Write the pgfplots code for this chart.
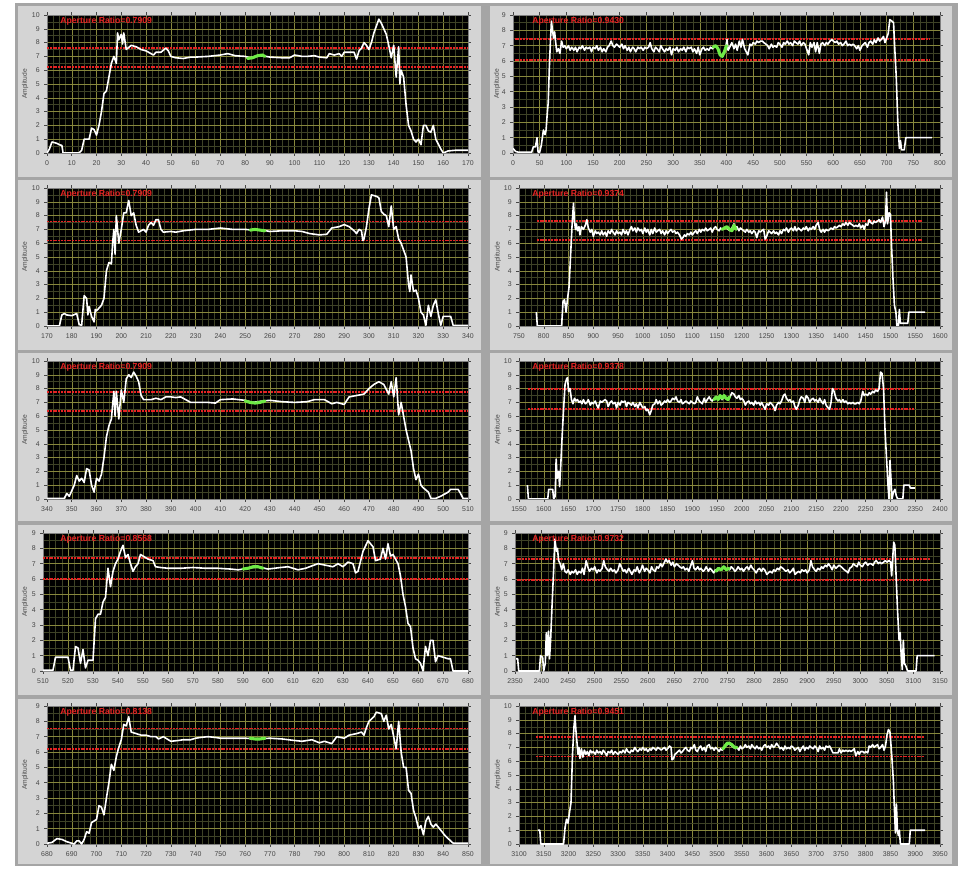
\documentclass[border=0pt]{standalone}
\usepackage{fontspec}
\setmainfont{Liberation Sans}
\usepackage{pgfplots}
\pgfplotsset{compat=1.18}
\definecolor{panelgray}{RGB}{212,212,212}
\definecolor{sepgray}{RGB}{165,165,165}
\definecolor{gridmaj}{RGB}{135,135,60}
\definecolor{gridmin}{RGB}{62,66,38}
\definecolor{tickgray}{RGB}{70,70,70}
\definecolor{lvred}{RGB}{230,35,35}
\definecolor{lvgreen}{RGB}{110,235,70}
\pgfplotsset{
  lv/.style={
    scale only axis, height=103.5pt, anchor=south west,
    axis background/.style={fill=black},
    ymin=0,
    grid=both,
    major grid style={draw=gridmaj, line width=0.35pt},
    minor grid style={draw=gridmin, line width=0.3pt},
    minor x tick num=3, minor y tick num=1,
    tick align=outside, major tick length=2pt, minor tick length=0pt,
    tick style={draw=tickgray, line width=0.4pt},
    axis line style={draw=gray, line width=0.5pt},
    ticklabel style={font=\fontsize{5.2}{6}\selectfont, text=tickgray},
    /pgf/number format/1000 sep={},
    /pgf/number format/assume math mode=true,
    ylabel={Amplitude},
    ylabel style={font=\fontsize{5}{6}\selectfont, text=tickgray, anchor=center},
    clip=true,
  },
  lvl/.style={lv, xtick distance=10},
  lvr/.style={lv, xtick distance=50},
  wline/.style={white, line width=1.2pt, line join=round, no markers},
  gline/.style={lvgreen, line width=2.3pt, line cap=round, line join=round, no markers},
  rline/.style={lvred, line width=1.4pt, dash pattern=on 1.5pt off 0.6pt, no markers},
}
\newcommand{\ttl}[2]{\node[anchor=west, font=\bfseries\fontsize{6.5}{7}\selectfont, text=lvred, inner sep=0pt, xshift=#1, yshift=-4.6pt] at (rel axis cs:0,1) {#2};}
\begin{document}
\begin{tikzpicture}
\fill[white] (0pt,0pt) rectangle (720.75pt,651.75pt);
\fill[sepgray] (11.25pt,2.25pt) rectangle (718.5pt,649.5pt);
\foreach \ya/\yb in {519/647.25,389.25/516.75,261/387,130.5/258,3.75/127.5}{
  \fill[panelgray] (13.5pt,\ya pt) rectangle (360.75pt,\yb pt);
  \fill[panelgray] (367.5pt,\ya pt) rectangle (714pt,\yb pt);
}
% ---------- Row 1 left
\begin{axis}[lvl, at={(35.25pt,537pt)}, width=315.75pt, xmin=0, xmax=170, ymax=10, ytick={0,...,10},
  ylabel style={at={(axis description cs:-0.052,0.5)}}]
\addplot[rline] coordinates {(0,7.62) (170,7.62)};
\addplot[rline] coordinates {(0,6.25) (170,6.25)};
\addplot[wline] coordinates {(0,0) (1,0.3) (2,0.8) (3,0.75) (4,0.7) (5,0.6) (6,0.55) (6.5,0) (13,0) (14,0.2) (15,1.0) (17,1.0) (18,1.8) (19,1.7) (20,1.3) (21,2.0) (22,3.0) (23,4.3) (24,4.5) (25,5.5) (26,6.5) (27,7.0) (28,6.5) (28.5,8.7) (29,8.2) (30,8.6) (30.5,7.9) (31,8.7) (32,7.5) (34,7.8) (36,7.7) (38,7.5) (40,7.4) (42,7.2) (43,7.1) (44,7.3) (46,7.3) (48,7.6) (49,7.4) (50,7.0) (52,6.9) (55,6.85) (58,6.95) (60,6.95) (65,7.0) (70,7.1) (73,7.2) (76,7.05) (80,7.0) (82,6.9) (85,7.05) (87,7.05) (90,6.95) (95,6.9) (98,6.9) (100,7.1) (103,7.0) (105,7.0) (108,7.05) (110,6.95) (113,6.9) (114,7.2) (116,7.1) (118,7.2) (119,7.0) (120,7.3) (122,7.3) (124,7.3) (125,6.8) (126,7.4) (127,7.6) (128,8.0) (129,7.8) (130,7.5) (131,8.0) (132,8.7) (133,9.2) (134,9.7) (135,9.4) (136,9.0) (137,8.6) (138,7.8) (139,6.9) (140,7.8) (141,5.5) (142,7.7) (142.5,5.0) (143,6.0) (144,5.5) (145,3.5) (146,2.0) (147,1.6) (148,1.0) (149,0.8) (150,1.0) (151,0.6) (152,2.0) (153,2.0) (154,1.6) (155,1.5) (156,2.0) (157,1.0) (159,0.3) (160,0) (162,0.15) (165,0.2) (170,0.2)};
\addplot[gline] coordinates {(81,6.85) (83,6.9) (85,7.05) (87,7.1) (88,7.0)};
\ttl{9.75pt}{Aperture Ratio=0.7909}
\end{axis}
% ---------- Row 1 right
\begin{axis}[lvr, at={(384.75pt,537pt)}, width=320.25pt, xmin=0, xmax=800, ymax=9, ytick={0,...,9},
  ylabel style={at={(axis description cs:-0.037,0.5)}}]
\addplot[rline] coordinates {(3,7.41) (781,7.41)};
\addplot[rline] coordinates {(3,6.04) (781,6.04)};
\addplot[wline] coordinates {(0,0.3) (5,0.1) (10,0.05) (35,0.05) (38,0.4) (42,0.4) (45,1.0) (47,0.05) (50,0.05) (53,0.5) (57,1.5) (60,1.2) (62,1.5) (64,2.5) (66,3.3) (68,5.5) (70,7.2) (72,8.6) (74,8.0) (76,7.5) (78,7.9) (80,7.2) (82,6.6) (85,6.8) (88,6.5) (91,7.3) (94,6.9) (97,7.0) (100,6.8) (104,7.0) (107,6.7) (110,6.9) (114,6.7) (117,6.9) (120,6.6) (124,6.9) (127,6.8) (130,7.0) (134,6.7) (137,6.9) (140,6.8) (144,6.9) (147,6.6) (150,6.9) (154,6.8) (157,7.0) (160,6.7) (164,6.9) (167,6.6) (170,6.8) (174,6.6) (177,6.9) (180,7.0) (184,7.3) (187,7.0) (190,6.9) (194,7.1) (197,7.0) (200,6.9) (204,7.1) (207,6.8) (210,7.0) (214,6.7) (217,6.9) (220,6.6) (224,6.9) (227,6.8) (230,6.6) (234,6.9) (237,6.8) (240,6.9) (244,6.7) (247,6.9) (250,6.8) (254,6.9) (257,7.2) (260,6.8) (264,6.6) (267,6.9) (270,6.8) (274,6.6) (277,7.0) (280,6.8) (284,6.6) (287,6.8) (290,6.7) (294,6.9) (297,6.4) (300,6.8) (304,6.7) (307,6.9) (310,6.6) (314,6.8) (317,6.7) (320,6.9) (324,6.6) (327,6.9) (330,6.8) (334,6.9) (337,6.6) (340,6.8) (344,6.5) (347,6.9) (350,6.4) (354,6.8) (357,6.9) (360,6.7) (364,6.8) (367,6.7) (370,6.9) (374,6.8) (377,7.0) (380,7.0) (384,6.8) (388,6.4) (392,6.3) (396,6.6) (399,7.0) (401,7.4) (403,6.7) (406,6.9) (410,7.2) (414,6.8) (417,7.1) (420,6.7) (424,7.3) (427,6.9) (430,7.4) (434,6.8) (437,6.6) (440,6.4) (444,7.1) (447,7.0) (450,7.2) (454,7.1) (457,7.3) (460,7.2) (464,7.3) (467,7.3) (470,7.2) (474,7.1) (477,7.0) (480,6.8) (484,7.1) (487,6.9) (490,7.0) (494,6.9) (497,7.2) (500,7.1) (504,6.9) (507,7.2) (510,7.1) (514,7.3) (517,7.1) (520,7.2) (524,7.0) (527,7.3) (530,7.2) (534,7.1) (537,7.3) (540,7.0) (544,7.2) (547,7.1) (550,6.8) (554,6.4) (557,7.2) (560,6.9) (564,7.2) (567,6.6) (570,7.2) (574,6.5) (577,7.1) (580,7.2) (584,7.0) (587,7.2) (590,7.1) (594,7.3) (597,7.4) (600,7.3) (604,7.2) (607,7.3) (610,7.1) (614,7.2) (617,7.0) (620,7.1) (624,7.3) (627,7.0) (630,7.1) (634,7.0) (637,7.1) (640,7.0) (644,6.8) (647,7.0) (650,6.7) (654,7.0) (657,7.1) (660,7.2) (664,6.9) (667,7.2) (670,7.3) (674,7.1) (677,7.4) (680,7.2) (684,7.5) (687,7.3) (690,7.4) (694,7.6) (697,7.2) (700,7.5) (703,7.8) (706,8.7) (710,8.6) (713,8.5) (715,7.0) (718,5.0) (721,2.0) (724,0.3) (726,0.8) (728,0.2) (733,0.2) (736,1.0) (785,1.0)};
\addplot[gline] coordinates {(375,6.9) (380,7.0) (384,6.8) (388,6.4) (392,6.3) (396,6.6) (400,7.0)};
\ttl{14.25pt}{Aperture Ratio=0.9430}
\end{axis}
% ---------- Row 2 left
\begin{axis}[lvl, at={(35.25pt,407.25pt)}, width=315.75pt, xmin=170, xmax=340, ymax=10, ytick={0,...,10},
  ylabel style={at={(axis description cs:-0.052,0.5)}}]
\addplot[rline] coordinates {(170,7.57) (340,7.57)};
\addplot[rline] coordinates {(170,6.2) (340,6.2)};
\addplot[wline] coordinates {(170,0) (175,0) (176,0.8) (177,0.9) (178,0.8) (180,0.75) (182,0.9) (183,0.1) (184,0.05) (185,2.2) (186,2.0) (186.5,0.8) (187,1.4) (188,0.7) (189,0.3) (189.5,1.2) (190,1.1) (192,1.5) (193,2.0) (194,4.0) (195,4.6) (196,4.5) (196.5,6.0) (197,7.0) (197.5,5.2) (198,8.0) (199,6.0) (200,7.0) (201,8.2) (202,8.2) (203,9.1) (204,8.0) (205,8.2) (206,7.3) (207,6.8) (208,6.9) (209,7.0) (210,6.8) (211,7.3) (212,7.5) (213,7.3) (214,7.7) (215,7.7) (216,7.0) (217,6.8) (220,6.85) (222,6.8) (225,6.9) (230,7.0) (235,7.0) (240,7.1) (245,7.0) (250,7.0) (253,6.95) (257,6.95) (260,6.85) (265,6.9) (270,6.9) (273,6.85) (276,6.7) (280,6.6) (283,6.65) (285,7.1) (288,7.2) (290,7.35) (292,7.2) (294,6.9) (295,6.7) (296,7.0) (297,6.9) (297.5,6.2) (298,6.3) (299,7.2) (300,8.5) (301,9.5) (303,9.4) (304,9.3) (305,8.3) (306,8.1) (307,8.0) (308,7.2) (309,8.7) (310,7.0) (311,7.2) (312,6.3) (313,6.0) (314,5.5) (315,5.0) (316,3.0) (316.5,2.5) (317,3.7) (318,2.5) (319,2.6) (320,2.0) (321,1.0) (322,0.8) (323,0.05) (324,1.5) (325,0.7) (326,1.5) (327,1.9) (328,0.9) (329,0.05) (330,0.7) (333,0.7) (334,0.05) (340,0.05)};
\addplot[gline] coordinates {(252,6.95) (254,7.0) (256,6.95) (258,6.9)};
\ttl{9.75pt}{Aperture Ratio=0.7909}
\end{axis}
% ---------- Row 2 right
\begin{axis}[lvr, at={(389.25pt,407.25pt)}, width=315.75pt, xmin=750, xmax=1600, ymax=10, ytick={0,...,10},
  ylabel style={at={(axis description cs:-0.05,0.5)}}]
\addplot[rline] coordinates {(786,7.63) (1566,7.63)};
\addplot[rline] coordinates {(786,6.22) (1566,6.22)};
\addplot[wline] coordinates {(785,1.0) (787,0.0) (836,0.0) (839,1.8) (842,1.9) (845,1.0) (848,2.0) (851,2.8) (854,5.0) (857,7.2) (860,8.9) (862,7.6) (864,7.0) (866,7.4) (868,6.9) (871,7.2) (873,6.6) (876,7.2) (880,7.0) (884,7.3) (887,7.7) (890,7.1) (894,6.8) (897,7.0) (900,6.5) (904,6.9) (907,6.7) (910,6.8) (914,6.6) (917,6.9) (920,6.6) (924,6.8) (927,6.5) (930,6.9) (934,6.7) (937,7.0) (940,6.8) (944,6.6) (947,6.9) (950,6.7) (954,6.8) (957,6.6) (960,7.0) (964,6.7) (967,6.9) (970,6.6) (974,7.0) (977,7.2) (980,6.9) (984,7.1) (987,6.8) (990,7.1) (994,6.9) (997,7.0) (1000,6.7) (1004,7.1) (1007,6.8) (1010,7.0) (1014,6.6) (1017,7.0) (1020,6.7) (1024,7.1) (1027,6.8) (1030,6.9) (1034,7.0) (1037,6.7) (1040,6.9) (1044,6.6) (1047,6.9) (1050,6.7) (1054,6.9) (1057,7.0) (1060,6.8) (1064,6.9) (1067,6.7) (1070,6.8) (1074,6.6) (1078,6.3) (1081,6.4) (1084,6.6) (1087,6.5) (1090,6.7) (1094,6.6) (1097,6.8) (1100,6.6) (1104,6.8) (1107,6.9) (1110,6.7) (1114,7.0) (1117,6.8) (1120,7.0) (1124,6.9) (1127,7.1) (1130,6.9) (1134,7.0) (1137,7.1) (1140,6.8) (1144,7.1) (1147,7.2) (1150,7.0) (1154,6.9) (1157,7.1) (1160,7.0) (1164,7.1) (1168,7.2) (1172,7.0) (1176,6.9) (1180,7.1) (1184,7.4) (1187,7.1) (1190,7.2) (1194,6.9) (1197,7.1) (1200,7.0) (1204,6.9) (1207,6.8) (1210,7.0) (1214,6.8) (1217,6.9) (1220,6.7) (1224,6.9) (1227,6.8) (1230,6.4) (1234,6.9) (1237,6.8) (1240,6.9) (1244,7.0) (1247,6.3) (1250,6.5) (1254,6.9) (1257,6.8) (1260,6.7) (1264,6.9) (1267,6.7) (1270,6.8) (1274,6.6) (1277,6.9) (1280,6.7) (1284,7.0) (1287,6.9) (1290,7.1) (1294,6.8) (1297,7.0) (1300,7.1) (1304,6.9) (1307,7.2) (1310,6.9) (1314,7.1) (1317,7.0) (1320,6.9) (1324,7.1) (1327,7.0) (1330,7.2) (1334,6.9) (1337,7.1) (1340,7.0) (1344,7.2) (1347,7.0) (1350,7.3) (1354,7.5) (1357,7.0) (1360,6.8) (1364,7.0) (1367,6.8) (1370,7.0) (1374,6.9) (1377,7.0) (1380,7.1) (1384,7.0) (1387,7.2) (1390,7.1) (1394,7.2) (1397,7.3) (1400,7.2) (1404,7.4) (1407,7.3) (1410,7.5) (1414,7.3) (1417,7.5) (1420,7.4) (1424,7.3) (1427,7.2) (1430,7.3) (1434,7.2) (1437,7.4) (1440,7.1) (1444,7.3) (1447,7.0) (1450,7.4) (1454,7.3) (1457,7.7) (1460,7.5) (1464,7.4) (1467,7.6) (1470,7.5) (1474,7.6) (1477,7.7) (1480,7.5) (1484,7.9) (1487,7.2) (1490,7.6) (1492,9.7) (1494,7.4) (1497,8.2) (1500,8.1) (1502,6.0) (1505,3.5) (1508,1.5) (1511,1.0) (1513,0.0) (1516,0.0) (1518,1.2) (1520,0.2) (1535,0.2) (1537,1.0) (1570,1.0)};
\addplot[gline] coordinates {(1160,7.0) (1165,7.1) (1170,7.2) (1175,7.0) (1180,6.9) (1184,7.3) (1188,7.0)};
\ttl{9.75pt}{Aperture Ratio=0.9374}
\end{axis}
% ---------- Row 3 left
\begin{axis}[lvl, at={(35.25pt,277.5pt)}, width=315.75pt, xmin=340, xmax=510, ymax=10, ytick={0,...,10},
  ylabel style={at={(axis description cs:-0.052,0.5)}}]
\addplot[rline] coordinates {(340,7.76) (510,7.76)};
\addplot[rline] coordinates {(340,6.35) (510,6.35)};
\addplot[wline] coordinates {(340,0.05) (347,0.05) (348,0.4) (349,0.2) (350,0.6) (351,1.0) (352,1.7) (353,1.3) (354,1.5) (355,1.2) (356,2.2) (357,2.1) (358,1.0) (359,0.5) (360,1.5) (361,1.3) (362,1.8) (363,3.0) (364,4.5) (365,5.3) (366,5.8) (367,7.8) (367.5,6.0) (368,7.8) (369,5.8) (370,7.9) (371,7.0) (372,8.7) (373,9.0) (374,8.8) (375,9.2) (376,8.9) (377,8.5) (378,7.5) (379,7.2) (380,7.2) (382,7.2) (384,7.3) (386,7.2) (388,7.4) (390,7.4) (392,7.35) (394,7.4) (396,7.2) (398,7.0) (400,7.0) (405,7.0) (408,6.95) (410,7.2) (415,7.25) (420,7.15) (423,7.0) (427,7.1) (430,7.15) (435,7.05) (440,7.0) (445,7.05) (448,7.2) (452,7.2) (455,6.9) (457,7.0) (460,6.85) (462,7.4) (465,7.5) (468,7.6) (470,8.0) (472,8.3) (474,8.5) (476,8.3) (478,7.6) (479,8.5) (480,7.4) (481,8.8) (482,6.1) (483,7.0) (484,6.0) (485,5.0) (487,3.5) (488,2.2) (489,1.4) (490,1.8) (491,1.0) (492,0.8) (494,0.5) (495,0.05) (497,0.05) (499,0.2) (500,0.3) (502,0.5) (503,0.7) (506,0.7) (507,0.4) (508,0.05) (510,0.05)};
\addplot[gline] coordinates {(420,7.1) (422,7.0) (424,6.95) (426,7.0) (428,7.1)};
\ttl{9.75pt}{Aperture Ratio=0.7909}
\end{axis}
% ---------- Row 3 right
\begin{axis}[lvr, at={(389.25pt,277.5pt)}, width=315.75pt, xmin=1550, xmax=2400, ymax=10, ytick={0,...,10},
  ylabel style={at={(axis description cs:-0.05,0.5)}}]
\addplot[rline] coordinates {(1569,8.0) (2349,8.0)};
\addplot[rline] coordinates {(1569,6.55) (2349,6.55)};
\addplot[wline] coordinates {(1567,1.0) (1569,0.0) (1608,0.0) (1610,0.7) (1618,0.7) (1620,0.0) (1623,0.2) (1625,2.9) (1627,1.5) (1630,2.0) (1632,0.9) (1634,2.2) (1637,4.5) (1640,6.5) (1643,8.3) (1646,8.7) (1648,8.8) (1650,7.8) (1653,8.0) (1656,7.2) (1659,6.9) (1662,7.3) (1665,7.1) (1668,7.2) (1671,7.0) (1674,7.1) (1677,6.9) (1680,7.2) (1684,6.9) (1687,7.0) (1690,7.2) (1694,6.8) (1697,7.0) (1700,6.9) (1704,7.1) (1707,6.8) (1710,6.6) (1714,7.1) (1717,7.0) (1720,7.1) (1724,7.2) (1727,7.1) (1730,6.7) (1734,7.0) (1737,7.1) (1740,6.9) (1744,7.0) (1747,6.6) (1750,7.0) (1754,6.8) (1757,7.1) (1760,7.0) (1764,7.1) (1767,6.7) (1770,7.0) (1774,6.9) (1777,6.8) (1780,7.0) (1784,6.7) (1787,6.9) (1790,6.6) (1794,7.0) (1797,6.8) (1800,6.6) (1804,6.7) (1807,6.4) (1810,6.5) (1814,6.1) (1817,6.4) (1820,6.8) (1824,6.9) (1827,7.2) (1830,6.9) (1834,7.1) (1837,6.8) (1840,6.9) (1844,7.1) (1847,7.0) (1850,7.2) (1854,7.0) (1857,7.1) (1860,7.3) (1864,7.2) (1867,7.4) (1870,7.1) (1874,7.0) (1877,7.2) (1880,6.9) (1884,7.0) (1887,7.1) (1890,7.0) (1894,6.9) (1897,7.1) (1900,7.0) (1904,6.9) (1907,7.0) (1910,7.4) (1914,7.1) (1917,7.0) (1920,6.9) (1924,7.3) (1927,7.0) (1930,7.2) (1934,7.4) (1937,7.2) (1940,7.1) (1944,7.3) (1948,7.4) (1952,7.3) (1956,7.4) (1960,7.2) (1964,7.4) (1968,7.3) (1972,7.2) (1976,7.4) (1980,7.7) (1984,7.6) (1987,7.4) (1990,7.3) (1994,7.5) (1997,7.2) (2000,7.3) (2004,7.1) (2007,6.8) (2010,7.0) (2014,7.1) (2017,6.9) (2020,7.0) (2024,6.8) (2027,7.1) (2030,6.9) (2034,7.0) (2037,6.8) (2040,7.0) (2044,6.7) (2047,6.5) (2050,6.9) (2054,6.8) (2057,7.0) (2060,6.9) (2064,6.7) (2067,6.4) (2070,6.8) (2074,7.0) (2077,6.9) (2080,7.1) (2084,7.5) (2087,7.6) (2090,7.3) (2094,7.1) (2097,7.2) (2100,7.0) (2104,7.1) (2107,6.7) (2110,6.5) (2114,6.8) (2117,7.2) (2120,7.4) (2124,7.3) (2127,7.0) (2130,7.5) (2134,7.3) (2137,7.0) (2140,7.2) (2144,7.3) (2147,7.1) (2150,7.2) (2154,7.0) (2157,7.3) (2160,7.1) (2164,6.9) (2167,7.2) (2170,6.8) (2174,6.6) (2177,6.5) (2180,7.0) (2183,8.0) (2186,7.8) (2190,7.3) (2194,7.1) (2197,7.2) (2200,7.0) (2204,7.2) (2207,7.0) (2210,7.1) (2214,6.9) (2217,7.0) (2220,6.9) (2224,7.0) (2227,6.9) (2230,6.9) (2234,7.0) (2237,6.9) (2240,7.1) (2244,7.8) (2247,7.5) (2250,7.6) (2254,7.5) (2257,7.7) (2260,7.6) (2264,7.8) (2267,7.7) (2270,7.9) (2274,7.8) (2277,8.0) (2280,9.2) (2283,9.1) (2286,8.0) (2289,5.0) (2292,3.0) (2295,1.0) (2297,0.0) (2299,2.8) (2301,1.5) (2303,0.0) (2306,0.5) (2309,0.7) (2312,0.2) (2315,0.0) (2325,0.0) (2327,1.0) (2338,1.0) (2340,0.8) (2350,0.8)};
\addplot[gline] coordinates {(1944,7.2) (1948,7.4) (1952,7.2) (1956,7.5) (1960,7.3) (1964,7.5) (1968,7.3) (1972,7.2) (1975,7.4)};
\ttl{9.75pt}{Aperture Ratio=0.9378}
\end{axis}
% ---------- Row 4 left
\begin{axis}[lvl, at={(32.25pt,148.5pt)}, width=318.75pt, xmin=510, xmax=680, ymax=9, ytick={0,...,9},
  ylabel style={at={(axis description cs:-0.042,0.5)}}]
\addplot[rline] coordinates {(510,7.36) (680,7.36)};
\addplot[rline] coordinates {(510,5.99) (680,5.99)};
\addplot[wline] coordinates {(510,0.05) (514,0.05) (515,0.9) (518,0.9) (520,0.9) (521,0.05) (522,0.05) (523,1.6) (524,1.5) (525,0.5) (526,1.4) (527,0.2) (528,0.7) (530,0.7) (531,3.4) (532,3.7) (533,3.7) (534,4.5) (535,4.8) (536,6.7) (537,5.5) (538,6.5) (539,7.0) (540,7.3) (541,7.8) (542,8.2) (543,7.4) (544,7.6) (545,7.0) (546,6.5) (547,6.8) (548,7.0) (549,7.6) (550,7.5) (552,7.3) (554,7.2) (555,6.8) (557,6.75) (560,6.7) (565,6.7) (570,6.75) (575,6.7) (580,6.7) (585,6.65) (588,6.6) (592,6.7) (596,6.8) (600,6.65) (605,6.75) (608,6.8) (612,6.6) (615,6.7) (620,7.0) (623,6.9) (626,6.8) (628,7.0) (630,6.8) (632,7.1) (634,7.0) (635,6.4) (636,6.5) (638,7.8) (640,8.5) (642,8.1) (643,7.2) (645,7.3) (646,8.0) (647,7.3) (648,8.3) (649,7.5) (650,7.6) (651,7.3) (652,7.0) (653,6.2) (654,5.0) (655,4.2) (656,3.1) (657,2.9) (658,1.5) (659,0.8) (660,0.7) (661,0.5) (662,0.0) (663,1.6) (664,1.0) (665,2.0) (666,2.0) (667,0.6) (668,1.0) (670,0.9) (672,0.8) (673,0.8) (674,0.0) (680,0.0)};
\addplot[gline] coordinates {(590,6.65) (592,6.7) (594,6.8) (596,6.8) (598,6.7)};
\ttl{12.75pt}{Aperture Ratio=0.8568}
\end{axis}
% ---------- Row 4 right
\begin{axis}[lvr, at={(386.25pt,148.5pt)}, width=318.75pt, xmin=2350, xmax=3150, ymax=9, ytick={0,...,9},
  ylabel style={at={(axis description cs:-0.04,0.5)}}]
\addplot[rline] coordinates {(2353,7.32) (3133,7.32)};
\addplot[rline] coordinates {(2353,5.95) (3133,5.95)};
\addplot[wline] coordinates {(2352,0.8) (2355,0.8) (2357,0.0) (2396,0.0) (2398,1.0) (2402,0.9) (2404,0.0) (2407,0.5) (2409,2.5) (2411,1.0) (2413,2.6) (2415,0.8) (2417,2.0) (2420,4.5) (2423,6.8) (2425,8.6) (2428,7.8) (2430,8.0) (2432,7.2) (2435,7.0) (2438,6.6) (2441,7.0) (2444,6.5) (2447,6.4) (2450,6.6) (2454,6.3) (2457,6.5) (2460,6.4) (2464,6.6) (2467,6.3) (2470,6.5) (2474,6.4) (2477,6.7) (2480,6.3) (2484,7.2) (2487,6.8) (2490,6.5) (2494,6.7) (2497,6.6) (2500,6.8) (2504,6.4) (2507,6.6) (2510,6.5) (2514,6.7) (2517,7.2) (2520,6.8) (2524,6.6) (2527,6.5) (2530,6.7) (2534,6.5) (2537,6.6) (2540,6.4) (2544,6.6) (2547,7.0) (2550,6.8) (2554,6.5) (2557,6.6) (2560,6.4) (2564,6.7) (2567,6.5) (2570,6.3) (2574,6.6) (2577,6.5) (2580,6.8) (2584,6.4) (2587,6.6) (2590,6.9) (2594,6.5) (2597,6.7) (2600,6.6) (2604,6.4) (2607,6.8) (2610,6.6) (2614,6.5) (2617,6.8) (2620,6.7) (2624,7.0) (2627,6.8) (2630,7.0) (2634,7.3) (2637,7.1) (2640,7.2) (2644,6.9) (2647,7.1) (2650,6.8) (2654,7.0) (2657,6.9) (2660,6.8) (2664,6.7) (2667,6.8) (2670,6.6) (2674,6.7) (2677,6.5) (2680,6.8) (2684,7.2) (2687,6.7) (2690,6.6) (2694,6.8) (2697,6.6) (2700,6.7) (2704,6.5) (2707,6.6) (2710,6.8) (2714,6.5) (2717,6.7) (2720,6.6) (2724,6.4) (2727,6.6) (2730,6.5) (2734,6.7) (2737,6.6) (2740,6.7) (2744,6.8) (2747,6.6) (2750,6.7) (2754,6.6) (2757,6.8) (2760,6.7) (2764,6.5) (2767,6.6) (2770,6.8) (2774,6.6) (2777,6.7) (2780,6.5) (2784,6.7) (2787,6.8) (2790,6.6) (2794,6.9) (2797,6.7) (2800,6.6) (2804,6.4) (2807,6.6) (2810,6.7) (2814,6.5) (2817,6.7) (2820,6.6) (2824,6.3) (2827,6.4) (2830,6.5) (2834,6.4) (2837,6.6) (2840,6.5) (2844,6.7) (2847,6.6) (2850,6.8) (2854,6.7) (2857,6.6) (2860,6.5) (2864,6.6) (2867,6.4) (2870,6.5) (2874,6.7) (2877,6.3) (2880,6.4) (2884,6.5) (2887,6.4) (2890,6.6) (2894,6.5) (2897,6.6) (2900,6.4) (2904,6.6) (2907,7.2) (2910,6.8) (2914,6.6) (2917,6.5) (2920,6.7) (2924,6.6) (2927,6.8) (2930,6.7) (2934,6.9) (2937,6.8) (2940,7.0) (2944,6.8) (2947,6.6) (2950,6.9) (2954,6.7) (2957,6.8) (2960,6.9) (2964,6.8) (2967,6.7) (2970,6.6) (2974,6.5) (2977,6.4) (2980,6.7) (2984,6.8) (2987,7.0) (2990,6.9) (2994,6.8) (2997,7.1) (3000,6.9) (3004,6.8) (3007,7.0) (3010,7.1) (3014,6.9) (3017,7.0) (3020,7.0) (3024,6.9) (3027,7.1) (3030,7.2) (3034,7.0) (3037,7.1) (3040,7.0) (3044,7.1) (3047,7.2) (3050,7.1) (3054,7.2) (3057,7.1) (3059,6.2) (3061,7.4) (3063,8.4) (3065,8.2) (3067,6.5) (3070,4.0) (3073,2.0) (3075,2.5) (3077,1.0) (3079,0.1) (3081,2.0) (3083,0.5) (3086,0.3) (3089,0.0) (3105,0.0) (3107,1.0) (3140,1.0)};
\addplot[gline] coordinates {(2728,6.5) (2733,6.7) (2738,6.6) (2743,6.8) (2748,6.6) (2753,6.7)};
\ttl{12.75pt}{Aperture Ratio=0.9732}
\end{axis}
% ---------- Row 5 left
\begin{axis}[lvl, at={(35.25pt,18.75pt)}, width=315.75pt, xmin=680, xmax=850, ymax=9, ytick={0,...,9},
  ylabel style={at={(axis description cs:-0.052,0.5)}}]
\addplot[rline] coordinates {(680,7.53) (850,7.53)};
\addplot[rline] coordinates {(680,6.17) (850,6.17)};
\addplot[wline] coordinates {(680,0.05) (682,0.1) (684,0.35) (686,0.3) (688,0.15) (690,0.05) (691,0.0) (692,0.2) (693,0.2) (694,0.0) (695,0.3) (696,0.8) (697,0.7) (698,1.4) (699,1.5) (700,1.6) (701,2.5) (702,2.4) (703,1.9) (704,3.0) (705,4.0) (706,5.2) (707,4.8) (708,5.7) (709,6.3) (710,6.8) (711,7.8) (712,7.7) (713,8.3) (714,7.3) (716,7.2) (718,7.1) (720,7.1) (722,7.0) (724,7.0) (725,6.85) (727,7.0) (730,6.7) (733,6.75) (735,6.8) (738,6.8) (740,6.9) (742,6.95) (745,7.0) (748,6.95) (750,6.9) (755,6.9) (760,6.9) (765,6.85) (770,6.9) (775,6.85) (780,6.75) (783,6.7) (787,6.8) (790,6.6) (792,6.7) (795,6.55) (797,7.0) (800,6.9) (802,7.1) (805,7.2) (807,7.3) (808,7.1) (809,7.6) (810,8.0) (812,8.3) (813,8.6) (815,8.5) (816,8.0) (817,8.4) (818,7.5) (819,7.8) (820,7.0) (821,6.2) (822,8.0) (823,6.0) (824,5.0) (825,5.0) (826,3.5) (827,3.3) (828,2.2) (829,1.7) (830,1.0) (831,1.2) (832,0.6) (833,1.5) (834,1.8) (835,1.3) (836,1.1) (837,1.3) (839,0.9) (841,0.5) (843,0.2) (844,0.05) (850,0.05)};
\addplot[gline] coordinates {(762,6.9) (764,6.85) (766,6.85) (768,6.9)};
\ttl{9.75pt}{Aperture Ratio=0.8138}
\end{axis}
% ---------- Row 5 right
\begin{axis}[lvr, at={(389.25pt,18.75pt)}, width=315.75pt, xmin=3100, xmax=3950, ymax=10, ytick={0,...,10},
  ylabel style={at={(axis description cs:-0.05,0.5)}}]
\addplot[rline] coordinates {(3134,7.73) (3917,7.73)};
\addplot[rline] coordinates {(3134,6.34) (3917,6.34)};
\addplot[wline] coordinates {(3138,1.0) (3142,1.0) (3144,0.0) (3190,0.0) (3193,1.2) (3196,1.8) (3199,1.5) (3202,2.3) (3205,3.0) (3208,6.5) (3211,8.5) (3213,9.3) (3215,8.2) (3217,7.4) (3219,6.5) (3221,7.0) (3223,6.2) (3226,6.9) (3229,6.3) (3232,6.8) (3235,6.5) (3238,6.7) (3241,6.4) (3244,6.8) (3247,6.6) (3250,6.7) (3254,6.5) (3257,6.8) (3260,6.6) (3264,6.7) (3267,6.5) (3270,6.8) (3274,6.6) (3277,6.4) (3280,6.7) (3284,6.6) (3287,6.8) (3290,6.5) (3294,6.7) (3297,6.6) (3300,6.5) (3304,6.7) (3307,6.6) (3310,6.8) (3314,6.6) (3317,6.9) (3320,6.7) (3324,6.6) (3327,6.8) (3330,6.7) (3334,7.0) (3337,6.8) (3340,6.7) (3344,6.9) (3347,6.8) (3350,7.0) (3354,6.8) (3357,6.9) (3360,6.7) (3364,6.9) (3367,6.8) (3370,7.0) (3374,6.9) (3377,6.8) (3380,7.0) (3384,6.9) (3387,6.8) (3390,6.9) (3394,7.0) (3397,6.8) (3400,6.9) (3404,7.1) (3407,7.0) (3409,6.1) (3412,6.2) (3415,6.5) (3418,6.6) (3421,6.7) (3424,6.8) (3427,6.6) (3430,6.7) (3434,6.9) (3437,7.0) (3440,6.8) (3444,6.7) (3447,7.0) (3450,6.9) (3454,7.2) (3457,6.8) (3460,6.7) (3464,7.0) (3467,7.1) (3470,6.8) (3474,7.0) (3477,6.7) (3480,7.1) (3484,7.2) (3487,6.9) (3490,7.0) (3494,6.8) (3497,7.0) (3500,6.9) (3504,6.7) (3507,6.9) (3510,6.8) (3514,7.0) (3517,7.1) (3520,7.2) (3524,7.3) (3527,7.2) (3530,7.1) (3534,7.0) (3537,6.9) (3540,7.0) (3544,6.8) (3547,7.1) (3550,6.9) (3554,7.0) (3557,7.2) (3560,7.0) (3564,7.1) (3567,6.9) (3570,7.2) (3574,7.0) (3577,6.9) (3580,7.1) (3584,6.9) (3587,7.0) (3590,6.8) (3594,7.1) (3597,7.2) (3600,7.0) (3604,7.1) (3607,6.9) (3610,7.2) (3614,7.0) (3617,7.1) (3620,7.3) (3624,7.1) (3627,6.9) (3630,7.0) (3634,6.8) (3637,7.1) (3640,6.9) (3644,7.0) (3647,6.9) (3650,7.1) (3654,7.0) (3657,6.8) (3660,6.9) (3664,7.0) (3667,6.7) (3670,6.9) (3674,7.1) (3677,6.8) (3680,7.0) (3684,6.9) (3687,7.1) (3690,7.0) (3694,6.9) (3697,7.1) (3700,7.0) (3704,6.7) (3707,7.1) (3710,6.9) (3714,7.0) (3717,6.8) (3720,7.1) (3724,7.0) (3727,7.1) (3730,6.9) (3734,6.6) (3737,6.6) (3740,6.6) (3744,6.6) (3747,6.9) (3750,6.6) (3754,6.8) (3757,6.7) (3760,6.8) (3764,6.7) (3767,6.8) (3770,6.7) (3774,6.8) (3777,6.9) (3780,6.4) (3784,6.7) (3787,6.5) (3790,6.7) (3794,6.7) (3797,6.6) (3800,6.7) (3804,6.6) (3807,7.1) (3810,7.0) (3814,7.2) (3817,7.0) (3820,7.1) (3824,7.2) (3827,6.9) (3830,7.0) (3834,7.2) (3837,6.8) (3840,7.1) (3843,7.9) (3846,8.3) (3849,8.1) (3851,7.2) (3853,6.2) (3856,4.5) (3858,2.5) (3860,0.8) (3862,2.9) (3864,1.0) (3866,0.6) (3868,1.0) (3870,0.0) (3888,0.0) (3890,1.0) (3920,1.0)};
\addplot[gline] coordinates {(3512,6.9) (3516,7.1) (3520,7.3) (3525,7.3) (3530,7.2) (3535,7.0) (3540,7.0)};
\ttl{9.75pt}{Aperture Ratio=0.9451}
\end{axis}
\end{tikzpicture}
\end{document}
